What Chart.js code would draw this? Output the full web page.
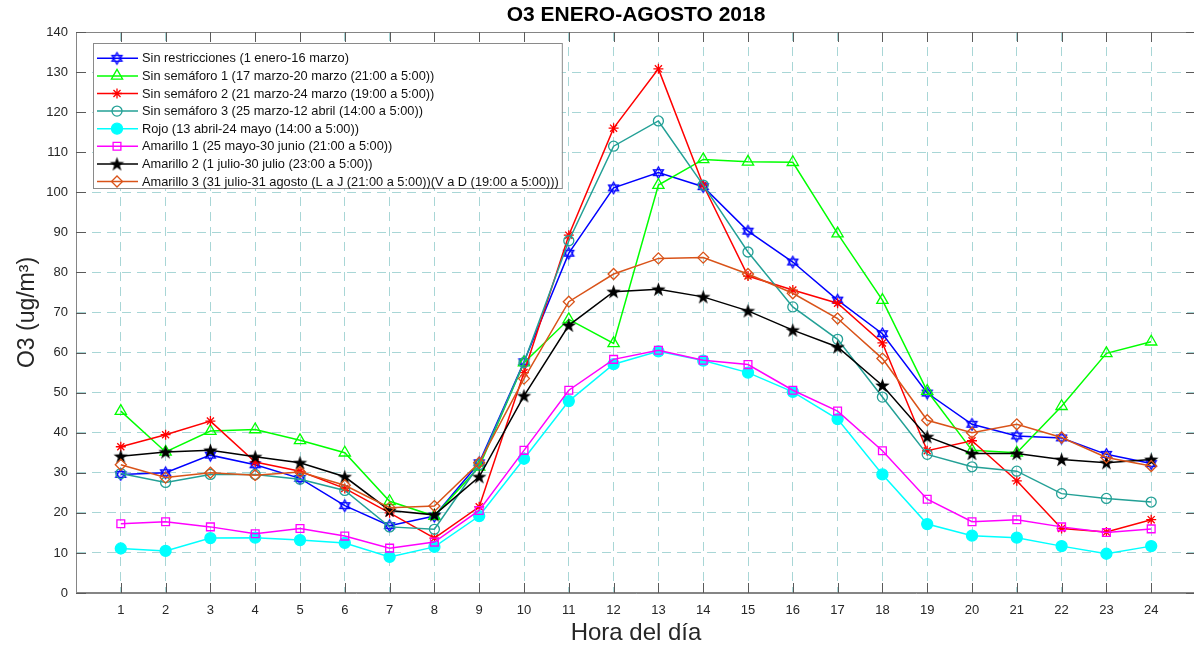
<!DOCTYPE html>
<html>
<head>
<meta charset="utf-8">
<script src="https://cdn.jsdelivr.net/npm/chart.js@4.4.0/dist/chart.umd.min.js"></script>
<style>
  html, body { margin: 0; padding: 0; overflow: hidden; background: #fff; }
  canvas { display: block; }
</style>
</head>
<body>
<canvas id="o3Chart" width="1200" height="651"></canvas>
<script>
// --- datos ---
const horas = [1, 2, 3, 4, 5, 6, 7, 8, 9, 10, 11, 12, 13, 14, 15, 16, 17, 18, 19, 20, 21, 22, 23, 24];

const sinRestricciones = [29.6, 30.0, 34.4, 32.0, 28.6, 21.8, 16.8, 19.2, 32.5, 57.7, 84.8, 101.1, 104.9, 101.4, 90.3, 82.6, 73.1, 64.7, 49.9, 42.1, 39.2, 38.7, 34.6, 32.3];
const sinSemaforo1 = [45.4, 35.2, 40.4, 40.8, 38.1, 35.0, 22.9, 19.2, 31.5, 57.5, 68.3, 62.3, 101.8, 108.2, 107.6, 107.5, 89.7, 73.1, 50.4, 35.6, 35.0, 46.6, 59.8, 62.7];
const sinSemaforo2 = [36.5, 39.5, 42.9, 32.7, 30.4, 26.1, 20.0, 13.7, 21.5, 55.0, 89.3, 116.0, 130.8, 101.8, 79.1, 75.6, 72.3, 62.4, 35.5, 38.0, 28.0, 16.1, 15.2, 18.3];
const sinSemaforo3 = [29.8, 27.6, 29.6, 29.6, 28.4, 25.6, 16.5, 15.9, 32.0, 57.5, 87.9, 111.5, 117.8, 101.8, 85.1, 71.4, 63.3, 48.9, 34.6, 31.5, 30.4, 24.8, 23.6, 22.7];
const rojo = [11.1, 10.5, 13.7, 13.8, 13.2, 12.5, 9.0, 11.5, 19.2, 33.5, 47.9, 57.1, 60.3, 58.0, 55.0, 50.2, 43.4, 29.6, 17.2, 14.3, 13.8, 11.7, 9.8, 11.7];
const amarillo1 = [17.3, 17.8, 16.5, 14.8, 16.1, 14.2, 11.2, 12.7, 20.6, 35.6, 50.6, 58.3, 60.6, 58.1, 57.0, 50.6, 45.4, 35.5, 23.4, 17.8, 18.3, 16.5, 15.1, 16.0];
const amarillo2 = [34.1, 35.2, 35.6, 34.0, 32.5, 29.0, 20.6, 19.5, 29.0, 49.2, 66.8, 75.2, 75.8, 73.9, 70.4, 65.6, 61.4, 51.8, 39.0, 34.8, 34.8, 33.3, 32.5, 33.3];
const amarillo3 = [32.0, 28.8, 30.0, 29.4, 30.2, 26.9, 21.3, 21.7, 32.5, 53.5, 72.7, 79.6, 83.5, 83.7, 79.6, 74.8, 68.5, 58.5, 43.1, 40.0, 42.1, 38.8, 33.8, 31.7];

const nombres = [
  'Sin restricciones (1 enero-16 marzo)',
  'Sin semáforo 1 (17 marzo-20 marzo (21:00 a 5:00))',
  'Sin semáforo 2 (21 marzo-24 marzo (19:00 a 5:00))',
  'Sin semáforo 3 (25 marzo-12 abril (14:00 a 5:00))',
  'Rojo (13 abril-24 mayo (14:00 a 5:00))',
  'Amarillo 1 (25 mayo-30 junio (21:00 a 5:00))',
  'Amarillo 2 (1 julio-30 julio (23:00 a 5:00))',
  'Amarillo 3 (31 julio-31 agosto (L a J (21:00 a 5:00))(V a D (19:00 a 5:00)))'
];

const titulo = 'O3 ENERO-AGOSTO 2018';
const tituloY = 'O3 (ug/m³)';
const tituloX = 'Hora del día';

const FONT = "'Liberation Sans', Arial, Helvetica, sans-serif";

// marcadores estilo MATLAB que Chart.js no trae
function hexagrama(color) {
  const c = document.createElement('canvas');
  c.width = 15; c.height = 15;
  const g = c.getContext('2d');
  g.strokeStyle = color;
  g.lineWidth = 1.3;
  const r = 5.8;
  for (const start of [-Math.PI / 2, Math.PI / 2]) {
    g.beginPath();
    for (let k = 0; k < 3; k++) {
      const a = start + k * 2 * Math.PI / 3;
      const px = 7.5 + r * Math.cos(a), py = 7.5 + r * Math.sin(a);
      if (k) g.lineTo(px, py); else g.moveTo(px, py);
    }
    g.closePath();
    g.stroke();
  }
  return c;
}

function pentagrama(color) {
  const c = document.createElement('canvas');
  c.width = 17; c.height = 17;
  const g = c.getContext('2d');
  g.fillStyle = color;
  g.beginPath();
  for (let k = 0; k < 10; k++) {
    const r = k % 2 ? 3.0 : 7.6;
    const a = -Math.PI / 2 + k * Math.PI / 5;
    const px = 8.5 + r * Math.cos(a), py = 9 + r * Math.sin(a);
    if (k) g.lineTo(px, py); else g.moveTo(px, py);
  }
  g.closePath();
  g.fill();
  return c;
}

const series = [
  { valores: sinRestricciones, color: '#0000ff', estilo: hexagrama('#0000ff'), radio: 6, relleno: false },
  { valores: sinSemaforo1, color: '#00ff00', estilo: 'triangle', radio: 6.5, relleno: false },
  { valores: sinSemaforo2, color: '#ff0000', estilo: 'star', radio: 5, relleno: false },
  { valores: sinSemaforo3, color: '#23a096', estilo: 'circle', radio: 5, relleno: false },
  { valores: rojo, color: '#00ffff', estilo: 'circle', radio: 5.5, relleno: true },
  { valores: amarillo1, color: '#ff00ff', estilo: 'rect', radio: 5.5, relleno: false },
  { valores: amarillo2, color: '#000000', estilo: pentagrama('#000000'), radio: 7, relleno: true },
  { valores: amarillo3, color: '#d95319', estilo: 'rectRot', radio: 5.5, relleno: false }
];

const datasets = series.map((s, i) => ({
  label: nombres[i],
  data: horas.map((h, j) => ({ x: h, y: s.valores[j] })),
  borderColor: s.color,
  backgroundColor: s.color,
  borderWidth: 1.5,
  tension: 0,
  pointStyle: s.estilo,
  pointRadius: s.radio,
  pointBorderColor: s.color,
  pointBackgroundColor: s.relleno ? s.color : 'rgba(0,0,0,0)',
  pointBorderWidth: 1.3,
  order: series.length - i
}));

// marco, marcas de graduación hacia dentro
const marcoPlugin = {
  id: 'marco',
  afterDatasetsDraw(chart) {
    const { ctx, chartArea: a, scales } = chart;
    ctx.save();
    ctx.strokeStyle = '#858585';
    ctx.lineWidth = 1;
    ctx.strokeRect(a.left + 0.5, a.top + 0.5, a.right - a.left - 1, a.bottom - a.top - 1);
    ctx.strokeStyle = '#5a5a5a';
    ctx.beginPath();
    horas.forEach(h => {
      const x = Math.round(scales.x.getPixelForValue(h)) + 0.5;
      ctx.moveTo(x, a.bottom); ctx.lineTo(x, a.bottom - 10);
      ctx.moveTo(x, a.top); ctx.lineTo(x, a.top + 10);
    });
    scales.y.ticks.forEach(t => {
      const y = Math.round(scales.y.getPixelForValue(t.value)) + 0.5;
      ctx.moveTo(a.left, y); ctx.lineTo(a.left + 10, y);
      ctx.moveTo(a.right, y); ctx.lineTo(a.right - 10, y);
    });
    ctx.stroke();
    ctx.restore();
  }
};

const tituloPlugin = {
  id: 'tituloCentrado',
  afterDraw(chart) {
    const { ctx, chartArea: a } = chart;
    ctx.save();
    ctx.font = 'bold 21px ' + FONT;
    ctx.fillStyle = '#000';
    ctx.textAlign = 'center';
    ctx.textBaseline = 'middle';
    ctx.fillText(titulo, (a.left + a.right) / 2, 15);
    ctx.restore();
  }
};

// leyenda dentro del área, con línea + marcador como en MATLAB
const leyendaPlugin = {
  id: 'leyendaMatlab',
  afterDraw(chart) {
    const { ctx, chartArea: a } = chart;
    ctx.save();
    ctx.font = '12.8px ' + FONT;
    const anchoTexto = Math.max(...nombres.map(n => ctx.measureText(n).width));
    const x0 = a.left + 17, y0 = a.top + 11;
    const w = 49 + anchoTexto + 3, h = 145;
    ctx.fillStyle = '#fff';
    ctx.fillRect(x0, y0, w, h);
    ctx.strokeStyle = '#8a8a8a';
    ctx.lineWidth = 1;
    ctx.strokeRect(x0 + 0.5, y0 + 0.5, w, h);

    series.forEach((s, i) => {
      const y = y0 + 15.3 + i * 17.6;
      ctx.strokeStyle = s.color;
      ctx.lineWidth = 1.5;
      ctx.beginPath();
      ctx.moveTo(x0 + 4, y);
      ctx.lineTo(x0 + 45, y);
      ctx.stroke();

      ctx.fillStyle = s.relleno ? s.color : 'rgba(0,0,0,0)';
      ctx.lineWidth = 1.3;
      Chart.helpers.drawPoint(ctx, {
        pointStyle: s.estilo, radius: s.radio, rotation: 0, borderWidth: 1.3
      }, x0 + 24, y);

      ctx.fillStyle = '#111';
      ctx.textAlign = 'left';
      ctx.textBaseline = 'middle';
      ctx.fillText(nombres[i], x0 + 49, y + 0.5);
    });
    ctx.restore();
  }
};

new Chart(document.getElementById('o3Chart'), {
  type: 'line',
  data: { datasets },
  options: {
    responsive: false,
    animation: false,
    layout: { autoPadding: false, padding: { top: 32, right: 4, left: 0, bottom: 0 } },
    plugins: {
      legend: { display: false },
      title: { display: false },
      tooltip: { enabled: false }
    },
    scales: {
      x: {
        type: 'linear',
        min: 0,
        max: 25,
        afterFit: s => { s.height = 58; s.paddingRight = 0; s.paddingLeft = 0; },
        ticks: {
          stepSize: 1,
          autoSkip: false,
          maxRotation: 0,
          padding: 10,
          color: '#262626',
          font: { family: FONT, size: 13 },
          callback: v => (v >= 1 && v <= 24) ? v : ''
        },
        grid: { color: '#a8d6d6', lineWidth: 1, drawTicks: false },
        border: { display: true, color: '#858585', width: 1, dash: [9, 6] },
        title: {
          display: true,
          text: tituloX,
          color: '#262626',
          font: { family: FONT, size: 24 },
          padding: { top: 0, bottom: 3 }
        }
      },
      y: {
        min: 0,
        max: 140,
        afterFit: s => { s.width = 76; },
        ticks: {
          stepSize: 10,
          padding: 8,
          color: '#262626',
          font: { family: FONT, size: 13 }
        },
        grid: { color: '#a8d6d6', lineWidth: 1, drawTicks: false },
        border: { display: true, color: '#858585', width: 1, dash: [9, 6] },
        title: {
          display: true,
          text: tituloY,
          color: '#262626',
          font: { family: FONT, size: 23 },
          padding: { top: 14, bottom: 0 }
        }
      }
    }
  },
  plugins: [marcoPlugin, tituloPlugin, leyendaPlugin]
});
</script>
</body>
</html>
